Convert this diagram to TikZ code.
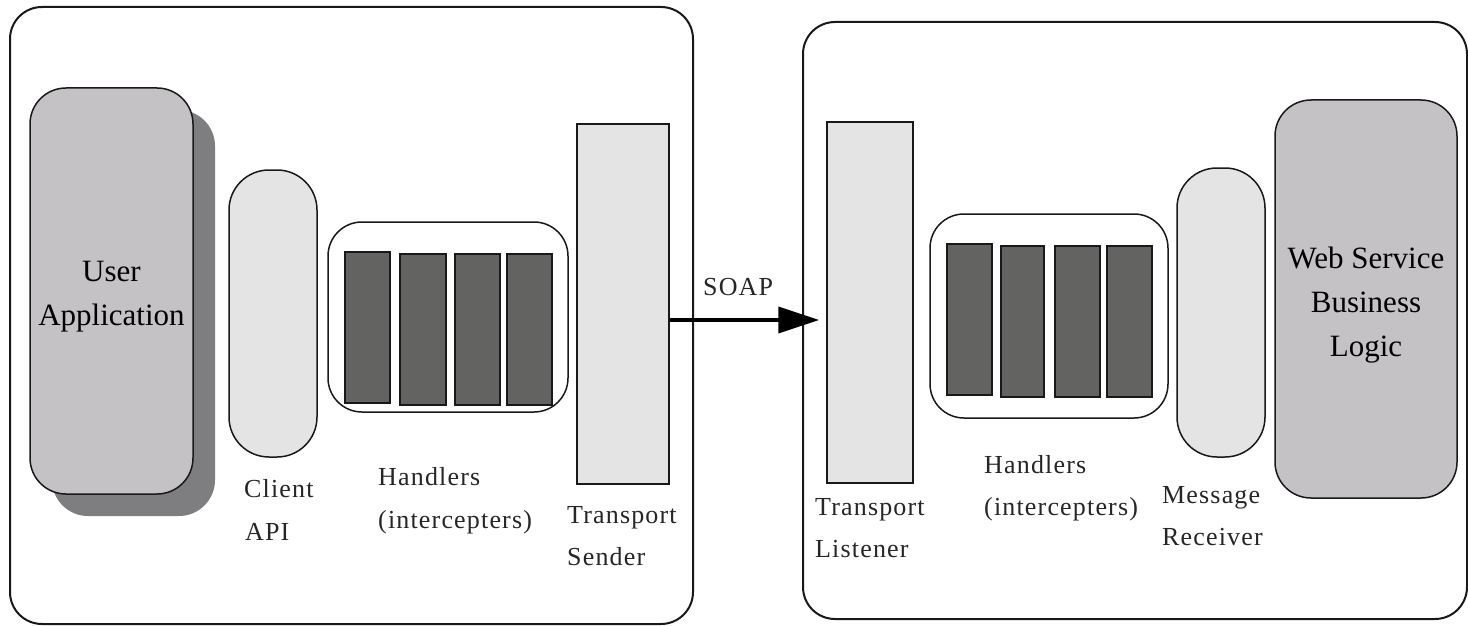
\documentclass[tikz,border=0pt]{standalone}
\usepackage{fontspec}
\setmainfont{Liberation Serif}
\newfontfamily\lblfont[LetterSpace=4.5]{Liberation Serif}
\usetikzlibrary{arrows.meta}
\definecolor{midgray}{HTML}{C4C2C5}
\definecolor{shadowgray}{HTML}{7E7D7F}
\definecolor{lightgray}{HTML}{E4E4E4}
\definecolor{darkbar}{HTML}{636462}
\tikzset{
  panel/.style={draw=black!90, line width=2pt, rounded corners=32pt, inner sep=0pt},
  bigbox/.style={draw=black!90, line width=1.5pt, fill=midgray, rounded corners=36pt, inner sep=0pt},
  maintext/.style={inner sep=0pt, font=\fontsize{31}{44}\selectfont, align=center},
  pill/.style={draw=black!90, line width=1.5pt, fill=lightgray, rounded corners=40pt, inner sep=0pt},
  tbox/.style={draw=black!90, line width=1.5pt, fill=lightgray, inner sep=0pt},
  hcont/.style={draw=black!90, line width=1.5pt, fill=white, rounded corners=34pt, inner sep=0pt},
  hbar/.style={draw=black!90, line width=1.5pt, fill=darkbar, inner sep=0pt},
  lbl/.style={anchor=base west, inner sep=0pt, text=black!85, font=\lblfont\fontsize{26}{42}\selectfont},
  soap/.style={line width=4pt, -{Triangle[length=41pt,width=26pt]}},
}
\begin{document}
\begin{tikzpicture}[x=1pt,y=-1pt]
\useasboundingbox (0,0) rectangle (1468,626);
% panels
\node[panel, minimum width=683pt, minimum height=617pt] (lp) at (351.5,315.5) {};
\node[panel, minimum width=664pt, minimum height=597pt] (rp) at (1135,320.5) {};
% user application with shadow
\node[fill=shadowgray, rounded corners=36pt, inner sep=0pt, minimum width=163pt, minimum height=406pt] (uash) at (133.5,313) {};
\node[bigbox, minimum width=163pt, minimum height=406pt] (ua) at (111.5,291) {};
\node[maintext] (uatxt) at (111.5,297) {User\\Application};
% client api
\node[pill, minimum width=88pt, minimum height=287pt] (api) at (273,313.5) {};
% left handlers
\node[hcont, minimum width=240pt, minimum height=190pt] (hl) at (448,317) {};
\node[hbar, minimum width=45pt, minimum height=151pt] (hl1) at (367.5,327.5) {};
\node[hbar, minimum width=46pt, minimum height=151pt] (hl2) at (423,329.5) {};
\node[hbar, minimum width=45pt, minimum height=151pt] (hl3) at (477.5,329.5) {};
\node[hbar, minimum width=45pt, minimum height=151pt] (hl4) at (529.5,329.5) {};
% transport sender
\node[tbox, minimum width=92pt, minimum height=360pt] (ts) at (623,304) {};
% transport listener
\node[tbox, minimum width=86pt, minimum height=361pt] (tl) at (870,302.5) {};
% right handlers
\node[hcont, minimum width=238pt, minimum height=204pt] (hr) at (1049,316) {};
\node[hbar, minimum width=45pt, minimum height=151pt] (hr1) at (969.5,319.5) {};
\node[hbar, minimum width=43pt, minimum height=151pt] (hr2) at (1022.5,321.5) {};
\node[hbar, minimum width=45pt, minimum height=151pt] (hr3) at (1077.5,321.5) {};
\node[hbar, minimum width=45pt, minimum height=151pt] (hr4) at (1129.5,321.5) {};
% message receiver
\node[pill, minimum width=88pt, minimum height=289pt] (mr) at (1221,312.5) {};
% web service
\node[bigbox, minimum width=182pt, minimum height=398pt] (ws) at (1366,299) {};
\node[maintext] (wstxt) at (1366,305) {Web Service\\Business\\Logic};
% arrow
\coordinate (ay) at (0,320);
\draw[soap, shorten >=7pt] (ts.east |- ay) -- (tl.west |- ay);
\node[lbl] (soaplbl) at (703,295) {SOAP};
% labels
\node[lbl] (l1a) at (244,497) {Client};
\node[lbl] (l1b) at (245,540) {API};
\node[lbl] (l2a) at (378,485) {Handlers};
\node[lbl] (l2b) at (378,528) {(intercepters)};
\node[lbl] (l3a) at (567,523) {Transport};
\node[lbl] (l3b) at (567,565) {Sender};
\node[lbl] (l4a) at (815,515) {Transport};
\node[lbl] (l4b) at (815,557) {Listener};
\node[lbl] (l5a) at (984,473) {Handlers};
\node[lbl] (l5b) at (984,515) {(intercepters)};
\node[lbl] (l6a) at (1162,503) {Message};
\node[lbl] (l6b) at (1162,545) {Receiver};
\end{tikzpicture}
\end{document}
